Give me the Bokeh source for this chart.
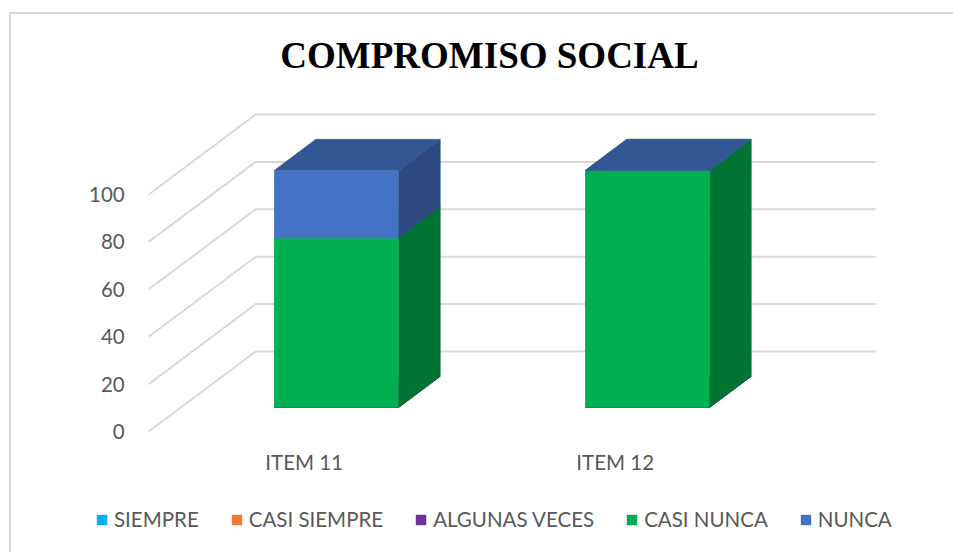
from bokeh.plotting import figure
from bokeh.models import LinearAxis, FixedTicker, Legend, LegendItem, Label
from bokeh.embed import file_html
from bokeh.resources import INLINE

# ---- data ----
categories = ["ITEM 11", "ITEM 12"]
series_names = ["SIEMPRE", "CASI SIEMPRE", "ALGUNAS VECES", "CASI NUNCA", "NUNCA"]
siempre = [0, 0]
casi_siempre = [0, 0]
algunas_veces = [0, 0]
casi_nunca = [71.4, 100]
nunca = [28.6, 0]
y_ticks = [0, 20, 40, 60, 80, 100]
title_text = "COMPROMISO SOCIAL"

series_values = [siempre, casi_siempre, algunas_veces, casi_nunca, nunca]
front_colors = ["#00b0f0", "#ed7d31", "#7030a0", "#00b050", "#4472c4"]
side_colors = ["#0083b3", "#b05d24", "#532477", "#007232", "#2c4a80"]
top_colors = ["#0097ce", "#cc6b2a", "#60298a", "#009745", "#335795"]

# ---- page / scale set-up ----
PAGE_X, PAGE_Y = 0, 0
W, H = 953, 552
PX_PER_CAT = 311.0
PX_PER_VAL = 2.37
X0_PAGE, Y0_PAGE = 303.7, 431.0   # page position of category 0, value 0, depth 0
DX, DY = 107.0, 80.0              # pixel shift of the full floor depth
GRAY = "#d9d9d9"
TEXT = "#595959"
FONT = "Lato"


def px(page_x):
    return (page_x - X0_PAGE) / PX_PER_CAT


def val(page_y):
    return (Y0_PAGE - page_y) / PX_PER_VAL


def proj(x, v, d):
    return x + d * DX / PX_PER_CAT, v + d * DY / PX_PER_VAL


p = figure(width=W, height=H, output_backend="svg", toolbar_location=None,
           x_range=(px(PAGE_X), px(PAGE_X + W)), y_range=(val(PAGE_Y + H), val(PAGE_Y)),
           x_axis_type=None, y_axis_type=None, min_border=0,
           outline_line_color=None, background_fill_color="white", border_fill_color="white")
p.xgrid.visible = False
p.ygrid.visible = False

# chart border
p.line([px(9.5), px(9.5), px(PAGE_X + W)], [val(PAGE_Y + H), val(12.5), val(12.5)], line_color=GRAY, line_width=2)

# wall gridlines
wall_x, wall_y = [], []
for t in y_ticks:
    a = proj(-0.5, t, 0)
    b = proj(-0.5, t, 1)
    c = proj(1.493, t, 1)
    wall_x.append([a[0], b[0], c[0]])
    wall_y.append([a[1], b[1], c[1]])
p.multi_line(wall_x, wall_y, line_color=GRAY, line_width=2)

# stacked 3-D bars
BAR_HALF = 0.2
D_FRONT, D_BACK = 0.3, 0.69
legend_items = []
base = [0.0 for _ in categories]
for name, vals, fc, sc, tc in zip(series_names, series_values, front_colors, side_colors, top_colors):
    rend = None
    for i, v in enumerate(vals):
        lo, hi = base[i], base[i] + v
        xl, xr = i - BAR_HALF, i + BAR_HALF
        f = [proj(xl, lo, D_FRONT), proj(xr, lo, D_FRONT), proj(xr, hi, D_FRONT), proj(xl, hi, D_FRONT)]
        s = [proj(xr, lo, D_FRONT), proj(xr, lo, D_BACK), proj(xr, hi, D_BACK), proj(xr, hi, D_FRONT)]
        t = [proj(xl, hi, D_FRONT), proj(xr, hi, D_FRONT), proj(xr, hi, D_BACK), proj(xl, hi, D_BACK)]
        if v > 0:
            p.patch([q[0] for q in s], [q[1] for q in s], fill_color=sc, line_color=sc, line_width=0.6)
        p.patch([q[0] for q in t], [q[1] for q in t], fill_color=tc, line_color=tc, line_width=0.6)
        r = p.patch([q[0] for q in f], [q[1] for q in f], fill_color=fc, line_color=None)
        rend = rend or r
        base[i] = hi
    legend_items.append(LegendItem(label=name, renderers=[rend]))

# axes (placed inside the frame at the floor's front edge)
yaxis = LinearAxis(ticker=FixedTicker(ticks=y_ticks), fixed_location=-0.5,
                   axis_line_color=None, major_tick_line_color=None, minor_tick_line_color=None,
                   major_label_standoff=18, major_label_text_font=FONT,
                   major_label_text_font_size="20.5px", major_label_text_color=TEXT)
p.add_layout(yaxis, "left")
xaxis = LinearAxis(ticker=FixedTicker(ticks=list(range(len(categories)))), fixed_location=0,
                   major_label_overrides={i: c for i, c in enumerate(categories)},
                   axis_line_color=None, major_tick_line_color=None, minor_tick_line_color=None,
                   major_label_standoff=12, major_label_text_font=FONT,
                   major_label_text_font_size="20.5px", major_label_text_color=TEXT)
p.add_layout(xaxis, "below")

legend = Legend(items=legend_items, orientation="horizontal", location=(95, 21),
                background_fill_alpha=0, border_line_color=None,
                glyph_width=13, glyph_height=13, label_standoff=6, spacing=31, margin=0, padding=6,
                label_text_font=FONT, label_text_font_size="20.5px", label_text_color=TEXT)
p.add_layout(legend, "center")

title = Label(x=(280 + 698) / 2 - PAGE_X, y=PAGE_Y + H - 55, x_units="screen", y_units="screen",
              text=title_text, text_align="center", text_baseline="middle",
              text_font="Liberation Serif", text_font_style="bold",
              text_font_size="37px", text_color="black")
p.add_layout(title, "center")

open("out.html", "w").write(file_html(p, INLINE))
